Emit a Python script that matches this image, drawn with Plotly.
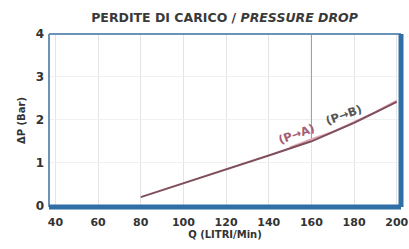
import plotly.graph_objects as go

q_a = [80, 100, 120, 140, 160, 180, 200]
dp_a = [0.2, 0.52, 0.85, 1.17, 1.5, 1.93, 2.42]
q_b = [150, 160, 170, 180, 190, 200]
dp_b = [1.36, 1.55, 1.72, 1.95, 2.18, 2.45]
x_ticks = [40, 60, 80, 100, 120, 140, 160, 180, 200]
y_ticks = [0, 1, 2, 3, 4]
leader_q = [160, 160]
leader_dp = [1.55, 4.0]

font_fam = "DejaVu Sans, Liberation Sans, Arial, sans-serif"

fig = go.Figure()
fig.add_trace(go.Scatter(x=leader_q, y=leader_dp, mode="lines",
                         line=dict(color="#9a9a9a", width=1), hoverinfo="skip"))
fig.add_trace(go.Scatter(x=q_b, y=dp_b, mode="lines",
                         line=dict(color="#e0a8b4", width=2), name="P→B"))
fig.add_trace(go.Scatter(x=q_a, y=dp_a, mode="lines",
                         line=dict(color="#7e4e5a", width=2), name="P→A"))

fig.add_annotation(x=153, y=1.66, text="<b>(P→A)</b>", showarrow=False,
                   textangle=-20, font=dict(size=11.5, color="#a45d72", family=font_fam))
fig.add_annotation(x=175, y=2.12, text="<b>(P→B)</b>", showarrow=False,
                   textangle=-20, font=dict(size=11.5, color="#555555", family=font_fam))

fig.update_layout(
    width=409, height=249,
    margin=dict(l=49, r=8, t=34, b=42),
    paper_bgcolor="white", plot_bgcolor="white",
    showlegend=False,
    title=dict(text="<b>PERDITE DI CARICO / <i>PRESSURE DROP</i></b>",
               x=0.549, xanchor="center", y=0.93, yanchor="middle",
               font=dict(size=12.5, color="#3a3a3a", family=font_fam)),
    xaxis=dict(range=[37, 202], tickvals=x_ticks, ticktext=[str(v) for v in x_ticks],
               showgrid=True, gridcolor="#e4e4e4", gridwidth=1, zeroline=False,
               automargin=False, ticklabelstandoff=7,
               tickfont=dict(size=11, color="#333333", family=font_fam, weight="bold"),
               title=dict(text="<b>Q (LITRI/Min)</b>", standoff=2,
                          font=dict(size=10, color="#333333", family=font_fam)),
               showline=False, ticks=""),
    yaxis=dict(range=[-0.03, 4.0], tickvals=y_ticks, ticktext=[str(v) for v in y_ticks],
               showgrid=True, gridcolor="#f0f0f0", gridwidth=1, zeroline=False,
               automargin=False, ticklabelstandoff=4,
               tickfont=dict(size=12, color="#333333", family=font_fam, weight="bold"),
               title=dict(text="<b>ΔP (Bar)</b>", standoff=8,
                          font=dict(size=10, color="#333333", family=font_fam)),
               showline=False, ticks=""),
)

# frame
fig.add_shape(type="line", xref="paper", yref="paper", x0=0, x1=1, y0=1, y1=1,
              line=dict(color="#6b93b8", width=2))
fig.add_shape(type="line", xref="paper", yref="paper", x0=0, x1=0, y0=0, y1=1,
              line=dict(color="#6b93b8", width=2))
fig.add_shape(type="line", xref="paper", yref="paper", x0=0, x1=1, y0=0, y1=0,
              line=dict(color="#2f6fa6", width=5))
fig.add_shape(type="line", xref="paper", yref="paper", x0=1, x1=1, y0=0, y1=1,
              line=dict(color="#2f6fa6", width=5))

fig.write_html("out.html", config={"displayModeBar": False},
               post_script="document.body.style.margin='0';document.body.style.overflow='hidden';")
